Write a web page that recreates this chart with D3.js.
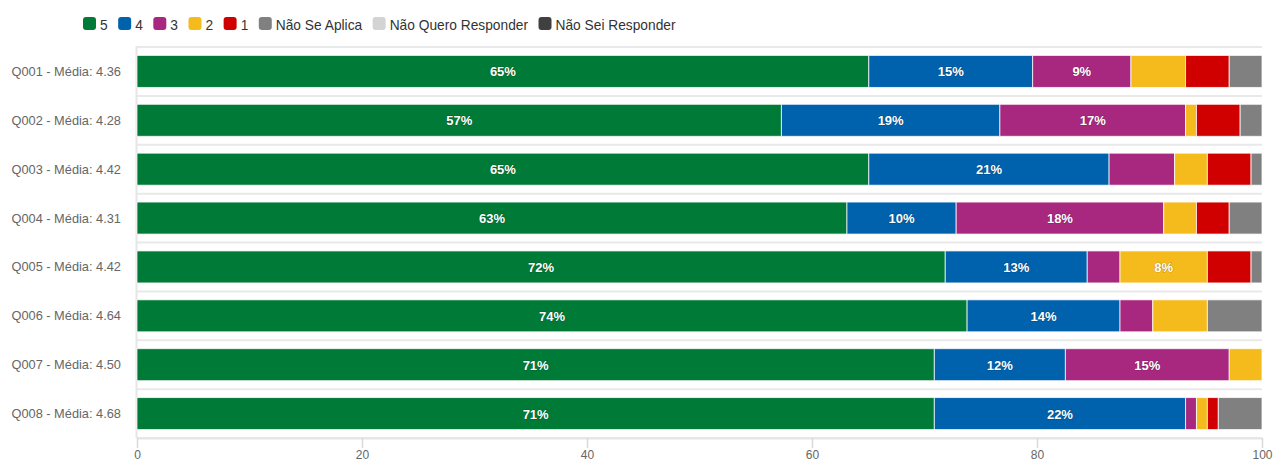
<!DOCTYPE html>
<html>
<head>
<meta charset="utf-8">
<script src="https://cdn.jsdelivr.net/npm/d3@7"></script>
<style>
  html, body { margin: 0; padding: 0; background: #fff; }
  svg { display: block; font-family: "Liberation Sans", Arial, sans-serif; }
</style>
</head>
<body>
<svg id="chart" width="1274" height="462"></svg>
<script>
// ---- data (response counts per question) ----
const categories = ["Q001 - Média: 4.36", "Q002 - Média: 4.28", "Q003 - Média: 4.42", "Q004 - Média: 4.31",
                    "Q005 - Média: 4.42", "Q006 - Média: 4.64", "Q007 - Média: 4.50", "Q008 - Média: 4.68"];
const seriesNames = ["5", "4", "3", "2", "1", "Não Se Aplica", "Não Quero Responder", "Não Sei Responder"];
const seriesColors = ["#007a37", "#0062ad", "#a8287f", "#f5bb1c", "#d10000", "#808080", "#d3d3d3", "#404040"];
const s5   = [67, 59, 67, 65, 74, 76, 73, 73];
const s4   = [15, 20, 22, 10, 13, 14, 12, 23];
const s3   = [ 9, 17,  6, 19,  3,  3, 15,  1];
const s2   = [ 5,  1,  3,  3,  8,  5,  3,  1];
const s1   = [ 4,  4,  4,  3,  4,  0,  0,  1];
const sNSA = [ 3,  2,  1,  3,  1,  5,  0,  4];
const sNQR = [ 0,  0,  0,  0,  0,  0,  0,  0];
const sNSR = [ 0,  0,  0,  0,  0,  0,  0,  0];
const xTicks = [0, 20, 40, 60, 80, 100];

const seriesValues = [s5, s4, s3, s2, s1, sNSA, sNQR, sNSR];

// ---- layout ----
const svg = d3.select("#chart");
const plot = { left: 137, right: 1262, top: 47, bottom: 438 };

const x = d3.scaleLinear().domain([0, 100]).range([plot.left, plot.right]);
const y = d3.scaleBand().domain(categories).range([plot.top, plot.bottom])
  .paddingInner(0.345).paddingOuter(0.1725);

// percent stacking
const rows = categories.map((c, i) => {
  const obj = { cat: c };
  const total = d3.sum(seriesValues, s => s[i]);
  seriesNames.forEach((n, k) => { obj[n] = seriesValues[k][i] / total * 100; });
  return obj;
});
const stacked = d3.stack().keys(seriesNames)(rows);

// category grid lines (at category boundaries)
const step = y.step();
const gridG = svg.append("g");
d3.range(categories.length + 1).forEach(i => {
  const yy = plot.top + i * step;
  gridG.append("line")
    .attr("x1", plot.left).attr("x2", plot.right)
    .attr("y1", yy).attr("y2", yy)
    .attr("stroke", "#e9e9e9").attr("stroke-width", 2);
});
// left axis line
gridG.append("line")
  .attr("x1", plot.left - 0.5).attr("x2", plot.left - 0.5)
  .attr("y1", plot.top - 1).attr("y2", plot.bottom)
  .attr("stroke", "#e6e6e6").attr("stroke-width", 2);

// x axis
const xAxis = svg.append("g")
  .attr("transform", `translate(0,${plot.bottom})`)
  .call(d3.axisBottom(x).tickValues(xTicks).tickSize(10).tickPadding(2).tickSizeOuter(0));
xAxis.select(".domain").attr("stroke", "#e6e6e6").attr("stroke-width", 2);
xAxis.selectAll(".tick line").attr("stroke", "#dadada").attr("stroke-width", 1.5);
xAxis.selectAll(".tick text").attr("fill", "#666").style("font-size", "12px")
  .style("font-family", '"Liberation Sans", Arial, sans-serif');

// bars
const barG = svg.append("g");
stacked.forEach((layer, k) => {
  barG.selectAll(null).data(layer).enter().append("rect")
    .attr("x", d => x(d[0]))
    .attr("y", d => y(d.data.cat))
    .attr("width", d => Math.max(0, x(d[1]) - x(d[0])))
    .attr("height", y.bandwidth())
    .attr("fill", seriesColors[k])
    .attr("stroke", "rgba(255,255,255,0.75)")
    .attr("stroke-width", 1);
});

// data labels
const labG = svg.append("g");
stacked.forEach((layer, k) => {
  labG.selectAll(null).data(layer.filter(d => d[1] - d[0] >= 7)).enter().append("text")
    .attr("x", d => (x(d[0]) + x(d[1])) / 2)
    .attr("y", d => y(d.data.cat) + y.bandwidth() / 2 + 5)
    .attr("text-anchor", "middle")
    .attr("fill", "#fff")
    .attr("stroke", "rgba(0,0,0,0.22)")
    .attr("stroke-width", 1.2)
    .attr("paint-order", "stroke")
    .style("font-size", "13px")
    .style("font-weight", "bold")
    .text(d => Math.round(d[1] - d[0]) + "%");
});

// category labels
svg.append("g").selectAll("text").data(categories).enter().append("text")
  .attr("x", 121)
  .attr("y", d => y(d) + y.bandwidth() / 2 + 4.5)
  .attr("text-anchor", "end")
  .attr("fill", "#666")
  .style("font-size", "12.8px")
  .text(d => d);

// legend
const legG = svg.append("g");
let lx = 83;
seriesNames.forEach((n, k) => {
  legG.append("rect")
    .attr("x", lx).attr("y", 17)
    .attr("width", 13).attr("height", 13)
    .attr("rx", 3).attr("ry", 3)
    .attr("fill", seriesColors[k]);
  const t = legG.append("text")
    .attr("x", lx + 17).attr("y", 30)
    .attr("fill", "#333")
    .style("font-size", "13.75px")
    .text(n);
  lx = lx + 17 + t.node().getComputedTextLength() + 10.5;
});
</script>
</body>
</html>
